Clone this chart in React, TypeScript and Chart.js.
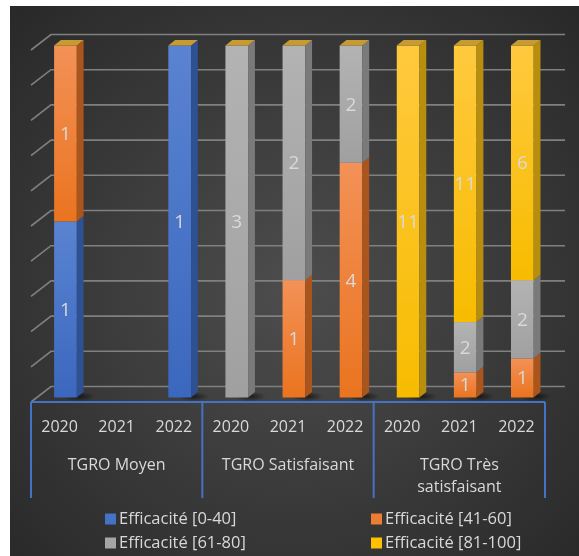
import React, { useEffect, useRef } from "react";
import { Chart, registerables } from "chart.js";

Chart.register(...registerables);

// ---------- data ----------
const years = ["2020", "2021", "2022", "2020", "2021", "2022", "2020", "2021", "2022"];
const groups: (string | string[])[] = ["TGRO Moyen", "TGRO Satisfaisant", ["TGRO Très", "satisfaisant"]];
const seriesNames = ["Efficacité [0-40]", "Efficacité [41-60]", "Efficacité [61-80]", "Efficacité [81-100]"];
const eff0to40 = [1, 0, 1, 0, 0, 0, 0, 0, 0];
const eff41to60 = [1, 0, 0, 0, 1, 4, 0, 1, 1];
const eff61to80 = [0, 0, 0, 3, 2, 2, 0, 2, 2];
const eff81to100 = [0, 0, 0, 0, 0, 0, 11, 11, 6];
const gridValues = [0, 10, 20, 30, 40, 50, 60, 70, 80, 90, 100];

const counts = [eff0to40, eff41to60, eff61to80, eff81to100];

// ---------- styles ----------
const FONT = "'Open Sans', 'Noto Sans', sans-serif";
const TEXT = "#d9d9d9";
const AXIS_BLUE = "#4472C4";
const GRID = "#808080";
const COLORS = [
  { top: "#5A83D1", bottom: "#3B67BE", side: "#2E5193" },
  { top: "#F39157", bottom: "#EA741F", side: "#A9551C" },
  { top: "#B3B3B3", bottom: "#A0A0A0", side: "#7A7A7A" },
  { top: "#FFC93E", bottom: "#F7BC00", side: "#B88E0E" },
];
const LEGEND_SWATCH = ["#4472C4", "#ED7D31", "#A5A5A5", "#FFC000"];
const CAP = "#C89B32";
// 3D geometry
const DEPTH_X = 20;
const DEPTH_Y = -15.5;
const BAR_OX = 5.9;
const BAR_OY = -4.5;
const SIDE_X = 6.8;
const SIDE_Y = -5.5;

const totals = years.map((_, i) => counts.reduce((s, arr) => s + arr[i], 0));
const percents = counts.map((arr) => arr.map((v, i) => (totals[i] ? (v / totals[i]) * 100 : 0)));

const threeD = {
  id: "threeD",
  beforeDraw(chart: any) {
    const { ctx, width, height } = chart;
    ctx.save();
    ctx.fillStyle = "#ffffff";
    ctx.fillRect(0, 0, width, height);
    const g = ctx.createRadialGradient(295, 290, 10, 295, 290, 430);
    g.addColorStop(0, "#4c4c4c");
    g.addColorStop(1, "#262626");
    ctx.fillStyle = g;
    ctx.fillRect(10, 6, width - 10, height - 6);
    ctx.restore();
  },
  beforeDatasetsDraw(chart: any) {
    const { ctx, chartArea: a } = chart;
    const y = chart.scales.y;
    ctx.save();
    ctx.strokeStyle = GRID;
    ctx.lineWidth = 1.6;
    gridValues.forEach((v) => {
      const yf = y.getPixelForValue(v);
      ctx.beginPath();
      ctx.moveTo(a.left, yf);
      ctx.lineTo(a.left + DEPTH_X, yf + DEPTH_Y);
      ctx.lineTo(a.right + DEPTH_X, yf + DEPTH_Y);
      ctx.stroke();
    });
    ctx.restore();
  },
  afterDatasetsDraw(chart: any) {
    const { ctx } = chart;
    const metas = chart.data.datasets.map((_: any, i: number) => chart.getDatasetMeta(i));
    ctx.save();
    // shadows
    years.forEach((_, i) => {
      if (!totals[i]) return;
      const el = metas[0].data[i];
      const right = el.x + el.width / 2 + BAR_OX;
      const base = el.base + BAR_OY;
      const cx = right + 2;
      const cy = base - 1;
      const g = ctx.createRadialGradient(cx, cy, 1, cx, cy, 16);
      g.addColorStop(0, "rgba(0,0,0,0.55)");
      g.addColorStop(1, "rgba(0,0,0,0)");
      ctx.fillStyle = g;
      ctx.save();
      ctx.translate(cx, cy);
      ctx.scale(1, 0.3);
      ctx.translate(-cx, -cy);
      ctx.beginPath();
      ctx.arc(cx, cy, 16, 0, Math.PI * 2);
      ctx.fill();
      ctx.restore();
    });
    years.forEach((_, i) => {
      let topIdx = -1;
      counts.forEach((arr, s) => {
        if (arr[i] > 0) topIdx = s;
      });
      counts.forEach((arr, s) => {
        if (!arr[i]) return;
        const el = metas[s].data[i];
        const left = el.x - el.width / 2 + BAR_OX;
        const right = el.x + el.width / 2 + BAR_OX;
        const top = Math.min(el.y, el.base) + BAR_OY;
        const bottom = Math.max(el.y, el.base) + BAR_OY;
        const c = COLORS[s];
        const g = ctx.createLinearGradient(0, top, 0, bottom);
        g.addColorStop(0, c.top);
        g.addColorStop(1, c.bottom);
        ctx.fillStyle = g;
        ctx.fillRect(left, top, right - left, bottom - top);
        ctx.fillStyle = c.side;
        ctx.beginPath();
        ctx.moveTo(right, top);
        ctx.lineTo(right + SIDE_X, top + SIDE_Y);
        ctx.lineTo(right + SIDE_X, bottom + SIDE_Y);
        ctx.lineTo(right, bottom);
        ctx.closePath();
        ctx.fill();
        if (s === topIdx) {
          ctx.fillStyle = CAP;
          ctx.beginPath();
          ctx.moveTo(left, top);
          ctx.lineTo(left + SIDE_X, top + SIDE_Y);
          ctx.lineTo(right + SIDE_X, top + SIDE_Y);
          ctx.lineTo(right, top);
          ctx.closePath();
          ctx.fill();
        }
        ctx.fillStyle = TEXT;
        ctx.font = `19px ${FONT}`;
        ctx.textAlign = "center";
        ctx.textBaseline = "middle";
        ctx.fillText(String(arr[i]), (left + right) / 2, (top + bottom) / 2 + 1);
      });
    });
    ctx.restore();
  },
  afterDraw(chart: any) {
    const { ctx, chartArea: a } = chart;
    const x2 = chart.scales.x2;
    ctx.save();
    ctx.strokeStyle = AXIS_BLUE;
    ctx.lineWidth = 2;
    ctx.beginPath();
    ctx.moveTo(a.left, a.bottom);
    ctx.lineTo(a.right, a.bottom);
    const w = x2.width / groups.length;
    for (let k = 0; k <= groups.length; k++) {
      const bx = x2.left + k * w;
      ctx.moveTo(bx, a.bottom);
      ctx.lineTo(bx, x2.bottom);
    }
    ctx.stroke();
    // legend
    const cols = [105, 371];
    const rowY = [x2.bottom + 21, x2.bottom + 45];
    ctx.font = `16.5px ${FONT}`;
    ctx.textAlign = "left";
    ctx.textBaseline = "middle";
    seriesNames.forEach((name, i) => {
      const cx = cols[i % 2];
      const cy = rowY[Math.floor(i / 2)];
      ctx.fillStyle = LEGEND_SWATCH[i];
      ctx.fillRect(cx, cy - 5.5, 11, 11);
      ctx.fillStyle = TEXT;
      ctx.fillText(name, cx + 14, cy);
    });
    ctx.restore();
  },
};

export default function App() {
  const ref = useRef<HTMLCanvasElement | null>(null);
  useEffect(() => {
    if (!ref.current) return;
    const chart = new Chart(ref.current, {
      type: "bar",
      data: {
        labels: years,
        datasets: seriesNames.map((name, s) => ({
          label: name,
          data: percents[s],
          backgroundColor: "rgba(0,0,0,0)",
          borderWidth: 0,
          categoryPercentage: 0.5,
          barPercentage: 0.795,
          xAxisID: "x",
          yAxisID: "y",
        })),
      },
      options: {
        responsive: false,
        animation: false,
        devicePixelRatio: 1,
        layout: { padding: { left: 31, right: 34, top: 50, bottom: 58 } },
        plugins: { legend: { display: false }, tooltip: { enabled: false } },
        scales: {
          x: {
            type: "category",
            stacked: true,
            offset: true,
            position: "bottom",
            grid: { display: false, drawTicks: false },
            border: { display: false },
            ticks: {
              color: TEXT,
              font: { family: FONT, size: 16, lineHeight: 1.2 },
              padding: 16,
              maxRotation: 0,
              autoSkip: false,
            },
            afterFit: (s: any) => {
              s.height = 36;
            },
          },
          x2: {
            type: "category",
            labels: groups as any,
            offset: true,
            position: "bottom",
            grid: { display: false, drawTicks: false },
            border: { display: false },
            ticks: {
              color: TEXT,
              font: { family: FONT, size: 16, lineHeight: 1.35 },
              padding: 17,
              maxRotation: 0,
              autoSkip: false,
            },
            afterFit: (s: any) => {
              s.height = 60;
            },
          },
          y: { stacked: true, min: 0, max: 100, display: false },
        },
      } as any,
      plugins: [threeD],
    });
    return () => chart.destroy();
  }, []);
  return (
    <div style={{ position: "fixed", left: 0, top: 0, width: 579, height: 556 }}>
      <canvas ref={ref} width={579} height={556} style={{ display: "block" }} />
    </div>
  );
}
